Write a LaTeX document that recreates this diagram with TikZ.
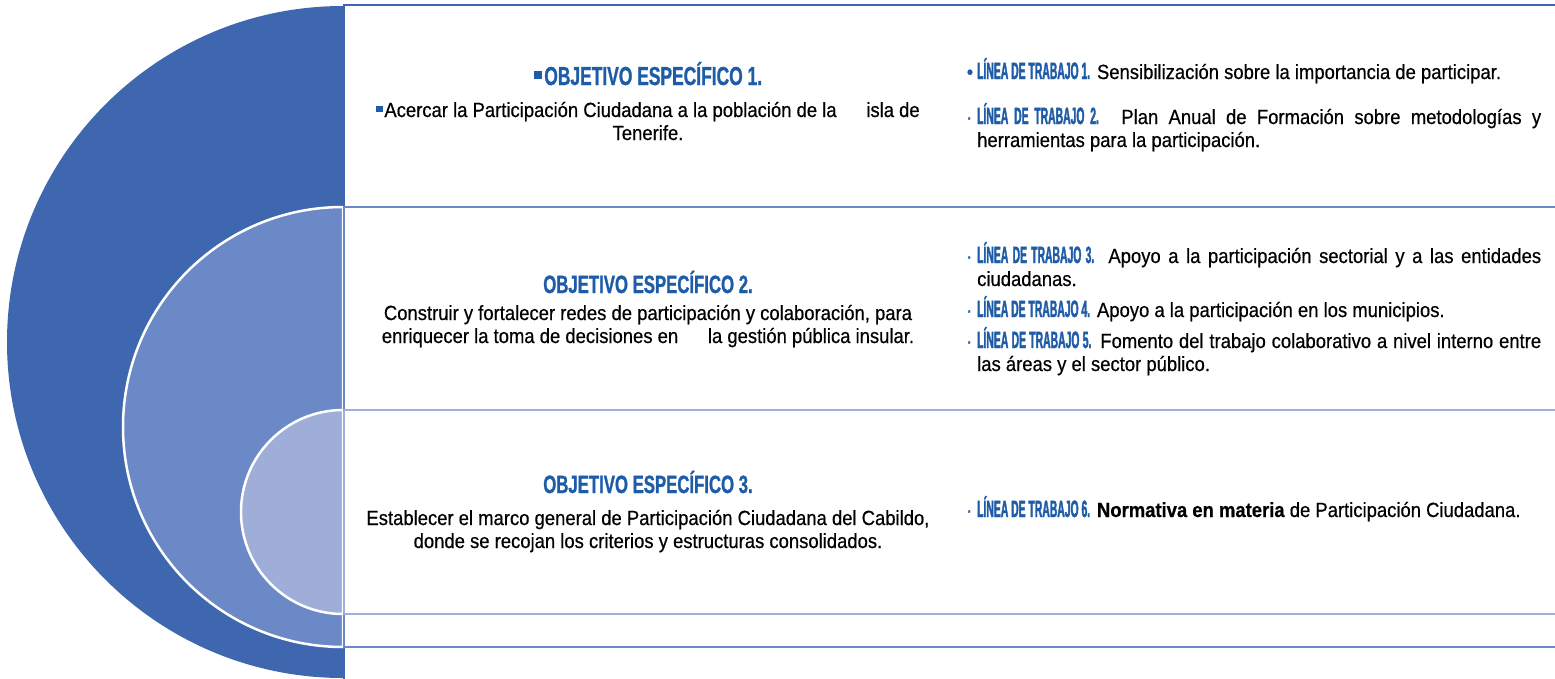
\documentclass[tikz,border=0pt]{standalone}
\usepackage{fontspec}
\setmainfont{Liberation Sans}[FakeStretch=0.9, FakeBold=0.5]
\newfontfamily\headfont{Liberation Sans}[FakeStretch=0.67, FakeBold=1]
\newfontfamily\ltfont{Liberation Sans}[FakeStretch=0.44, FakeBold=1.5, Scale=1.15]
\usepackage{tikz}
\usepackage{xcolor}

\definecolor{ringdark}{RGB}{63,103,175}
\definecolor{ringmid}{RGB}{108,137,199}
\definecolor{ringlight}{RGB}{159,174,216}
\definecolor{headblue}{RGB}{30,92,168}

\newcommand{\lt}[1]{{\ltfont\bfseries\color{headblue}#1}}
\newcommand{\sqbul}{{\color{headblue}\rule[0.22em]{0.32em}{0.32em}}\hspace{0.08em}}
\newcommand{\dotbul}{\llap{{\color{headblue}\textperiodcentered}\hspace{5pt}}}

\begin{document}
\begin{tikzpicture}[x=1pt, y=-1pt,
    objhead/.style={font=\headfont\bfseries\fontsize{25}{28}\selectfont, text=headblue, anchor=base, inner sep=0pt},
    objtext/.style={font=\fontsize{20.5}{23}\selectfont, text width=620pt, align=flush center, anchor=base, inner sep=0pt},
    linea/.style={font=\fontsize{20.5}{23}\selectfont, text width=570pt, align=flush left, anchor=base west, inner sep=0pt}]
    \useasboundingbox (0,0) rectangle (1555,678);

    % Draw the nested half discs
    \fill[ringdark] (343,6) arc[start angle=270, end angle=90, radius=336] -- cycle;
    \filldraw[fill=ringmid, draw=white, line width=2.5pt] (343,207) arc[start angle=270, end angle=90, radius=220] -- cycle;
    \filldraw[fill=ringlight, draw=white, line width=2.5pt] (343,410) arc[start angle=270, end angle=90, radius=102] -- cycle;

    % Draw the frames of the rows
    \draw[ringdark, line width=1.5pt] (344,5) rectangle (1570,700);
    \draw[ringmid, line width=1.5pt] (344,207) rectangle (1570,647);
    \draw[ringlight, line width=1.5pt] (344,410) rectangle (1570,614);

    % Objectives
    \node[objhead, font=\headfont\bfseries\fontsize{26}{28}\selectfont] (obj1) at (648,85) {\sqbul OBJETIVO ESPECÍFICO 1.};
    \node[objtext] (txt1) at (648,117) {\sqbul Acercar la Participación Ciudadana a la población de la\hspace{1.2em} isla de\\ Tenerife.};
    \node[objhead] (obj2) at (648,293) {OBJETIVO ESPECÍFICO 2.};
    \node[objtext] (txt2) at (648,320) {Construir y fortalecer redes de participación y colaboración, para\\ enriquecer la toma de decisiones en\hspace{1.2em} la gestión pública insular.};
    \node[objhead] (obj3) at (648,493) {OBJETIVO ESPECÍFICO 3.};
    \node[objtext] (txt3) at (648,525) {Establecer el marco general de Participación Ciudadana del Cabildo,\\ donde se recojan los criterios y estructuras consolidados.};

    % Lines of work
    \node[linea] (lt1) at (977,79) {\llap{{\color{headblue}\textbullet}\hspace{4pt}}\lt{LÍNEA DE TRABAJO 1.} Sensibilización sobre la importancia de participar.};
    \node[linea] (lt2) at (977,124) {\dotbul\makebox[564pt][s]{\lt{LÍNEA DE TRABAJO 2.} Plan Anual de Formación sobre metodologías y}\\ herramientas para la participación.};
    \node[linea] (lt3) at (977,263) {\dotbul\makebox[564pt][s]{\lt{LÍNEA DE TRABAJO 3.} Apoyo a la participación sectorial y a las entidades}\\ ciudadanas.};
    \node[linea] (lt4) at (977,317) {\dotbul\lt{LÍNEA DE TRABAJO 4.} Apoyo a la participación en los municipios.};
    \node[linea] (lt5) at (977,348) {\dotbul\makebox[564pt][s]{\lt{LÍNEA DE TRABAJO 5.} Fomento del trabajo colaborativo a nivel interno entre}\\ las áreas y el sector público.};
    \node[linea] (lt6) at (977,517) {\dotbul\lt{LÍNEA DE TRABAJO 6.} {\bfseries Normativa en materia} de Participación Ciudadana.};
\end{tikzpicture}
\end{document}
